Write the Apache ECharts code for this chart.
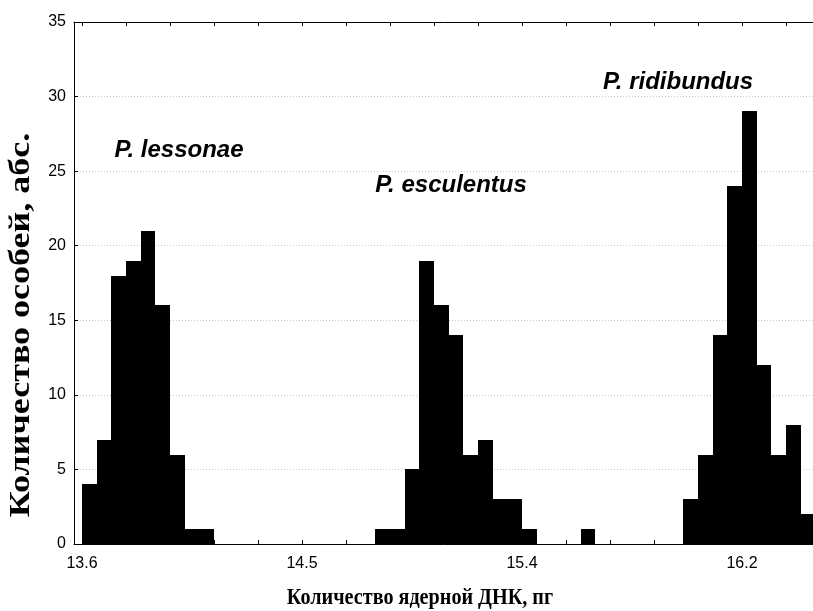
<!DOCTYPE html>
<html>
<head>
<meta charset="utf-8">
<script src="https://cdn.jsdelivr.net/npm/echarts@6/dist/echarts.min.js"></script>
<style>
html,body{margin:0;padding:0;background:#fff;}
#chart{width:813px;height:611px;}
</style>
</head>
<body>
<div id="chart"></div>
<script>
// Histogram bins: start of first bin and bin width (pg)
const binStart = 13.6;
const binWidth = 0.88 / 15;
// Counts per bin (bin 0 starts at 13.6)
const counts = [
  4, 7, 18, 19, 21, 16, 6, 1, 1, 0,
  0, 0, 0, 0, 0, 0, 0, 0, 0, 0,
  1, 1, 5, 19, 16, 14, 6, 7, 3, 3,
  1, 0, 0, 0, 1, 0, 0, 0, 0, 0,
  0, 3, 6, 14, 24, 29, 12, 6, 8, 2
];
// Tick labels on X axis (values at every 15th bin)
const xTickValues = [13.6, 14.48, 15.36, 16.24];
const yTicks = [0, 5, 10, 15, 20, 25, 30, 35];
// Species annotations (data coordinates)
const speciesNames = ['P. lessonae', 'P. esculentus', 'P. ridibundus'];
const speciesX = [13.988, 15.076, 15.984];
const speciesY = [26.4, 24.07, 30.98];

const xTitle = 'Количество ядерной ДНК, пг';
const yTitle = 'Количество особей, абс.';

const xMin = 13.568, xMax = 16.524;
const minorTicks = [];
for (let k = 0; k <= 17; k++) minorTicks.push(+(binStart + k * 3 * binWidth).toFixed(5));

const barData = [];
counts.forEach((c, i) => {
  if (c > 0) barData.push([binStart + i * binWidth, binStart + (i + 1) * binWidth, c]);
});

const chart = echarts.init(document.getElementById('chart'), null, {renderer: 'canvas'});
const axisCommon = {
  type: 'value', min: xMin, max: xMax,
  axisLine: {show: true, onZero: false, lineStyle: {color: '#000', width: 1}},
  axisTick: {show: true, inside: true, length: 4, customValues: minorTicks, lineStyle: {color: '#000'}},
  splitLine: {show: false}
};
chart.setOption({
  animation: false,
  grid: {left: 74, top: 22, right: 0, height: 522, containLabel: false},
  xAxis: [
    Object.assign({}, axisCommon, {
      position: 'bottom',
      axisLabel: {show: true, customValues: xTickValues, formatter: v => v.toFixed(1), color: '#000',
        fontFamily: 'Liberation Sans, Arial', fontSize: 16, margin: 12}
    }),
    Object.assign({}, axisCommon, {position: 'top', axisLabel: {show: false}})
  ],
  yAxis: {
    type: 'value', min: 0, max: 35, interval: 5,
    axisLine: {show: true, lineStyle: {color: '#000', width: 1}},
    axisTick: {show: true, inside: true, length: 4, lineStyle: {color: '#000'}},
    axisLabel: {color: '#000', fontFamily: 'Liberation Sans, Arial', fontSize: 16, margin: 8},
    splitLine: {show: true, lineStyle: {color: '#c8c8c8', type: [1, 2], width: 1}}
  },
  series: [
    {
      type: 'custom',
      xAxisIndex: 0, yAxisIndex: 0,
      data: barData,
      clip: true,
      renderItem: function (params, api) {
        const p0 = api.coord([api.value(0), api.value(2)]);
        const p1 = api.coord([api.value(1), 0]);
        const x0 = Math.round(p0[0]), x1 = Math.round(p1[0]);
        const y0 = Math.round(p0[1]), y1 = p1[1];
        return {type: 'rect', shape: {x: x0, y: y0, width: x1 - x0, height: y1 - y0},
          style: {fill: '#000'}};
      }
    },
    {
      type: 'scatter',
      symbolSize: 0,
      itemStyle: {opacity: 1},
      data: speciesNames.map((n, i) => ({value: [speciesX[i], speciesY[i]], name: n})),
      label: {show: true, position: 'inside', formatter: p => p.name, color: '#000', opacity: 1,
        fontFamily: 'Liberation Sans, Arial', fontSize: 24, fontWeight: 'bold', fontStyle: 'italic'},
      emphasis: {disabled: true},
      silent: true
    }
  ],
  graphic: [
    {type: 'text', x: 420, y: 598, scaleX: 0.84, style: {text: xTitle, fill: '#000',
      align: 'center', verticalAlign: 'middle',
      font: 'bold 24px "Liberation Serif", "Times New Roman", serif'}},
    {type: 'text', x: 21, y: 325, rotation: Math.PI / 2, scaleY: 0.84, style: {text: yTitle, fill: '#000',
      align: 'center', verticalAlign: 'middle',
      font: 'bold 36px "Liberation Serif", "Times New Roman", serif'}}
  ]
});
</script>
</body>
</html>
